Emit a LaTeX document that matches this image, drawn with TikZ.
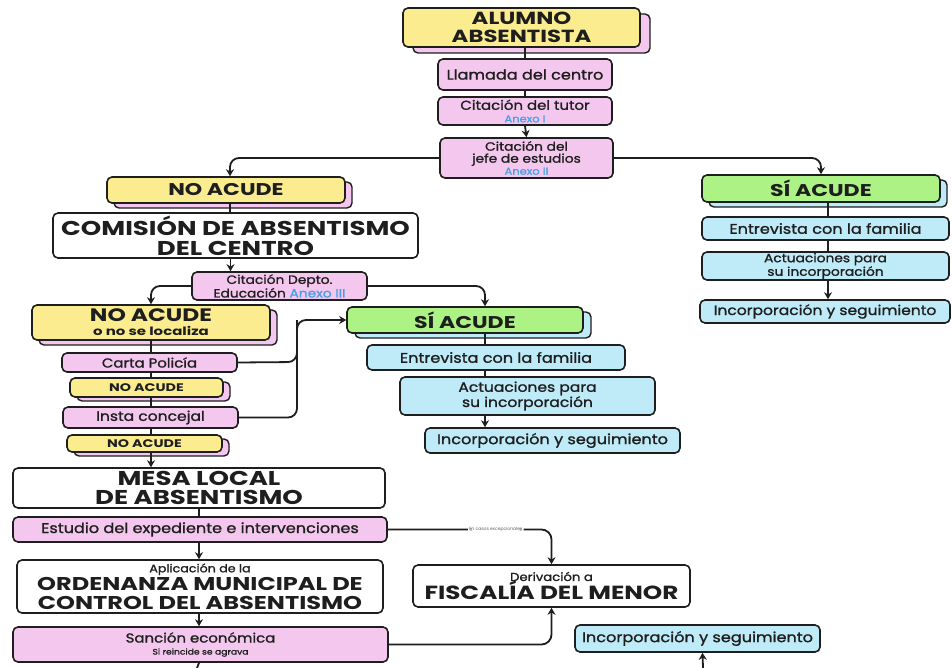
\documentclass[tikz,border=0pt]{standalone}
\usepackage{fontspec}
\setmainfont{Poppins}
\newfontfamily\titlefont{Poppins}[FakeStretch=1.3]
\newfontfamily\bodyfont{Poppins}[FakeStretch=1.15,FakeBold=1.3]
\usetikzlibrary{arrows.meta}
\definecolor{cyel}{HTML}{FAEC8F}
\definecolor{cpink}{HTML}{F4C8EE}
\definecolor{cgreen}{HTML}{ADF285}
\definecolor{cblue}{HTML}{BFEBF8}
\definecolor{ctxtblue}{HTML}{4B9FE6}
\definecolor{cline}{HTML}{1E1E1E}
\newcommand{\tfs}[2]{\titlefont\bfseries\fontsize{#1}{#2}\selectfont}
\newcommand{\bfs}[2]{\bodyfont\mdseries\fontsize{#1}{#2}\selectfont}
\begin{document}
\begin{tikzpicture}[x=1pt,y=-1pt,
  box/.style={draw=cline, line width=1.6pt, rounded corners=5pt, align=center, inner sep=0pt, text=cline},
  shbox/.style={draw=cline, line width=1.4pt, rounded corners=5pt, inner sep=0pt},
  conn/.style={draw=cline, line width=1.8pt},
  arr/.style={conn, -{Stealth[length=7pt,width=8pt]}},
  big/.style={font=\tfs{17}{17}},
  mid/.style={font=\bfs{14}{14}},
]
\useasboundingbox[fill=white] (0,0) rectangle (952,668);

% ---------- top column ----------
\node[shbox, fill=cpink, minimum width=237pt, minimum height=39pt] (alumnoS) at (531.5,33.5) {};
\node[box, fill=cyel, minimum width=237pt, minimum height=39pt, font=\tfs{17.5}{18}] (alumno) at (521.5,27.5) {ALUMNO\\ABSENTISTA};
\node[box, fill=cpink, minimum width=174pt, minimum height=31pt, mid] (llamada) at (525,74.5) {Llamada del centro};
\node[box, fill=cpink, minimum width=174pt, minimum height=28pt, font=\bfs{13}{12.5}] (tutor) at (525,111) {Citación del tutor\\{\fontsize{10}{10}\selectfont\textcolor{ctxtblue}{Anexo I}}};
\node[box, fill=cpink, minimum width=173pt, minimum height=40pt, font=\bfs{12}{12}] (jefe) at (526.5,158) {Citación del\\jefe de estudios\\{\fontsize{10}{10}\selectfont\textcolor{ctxtblue}{Anexo II}}};

% ---------- right column ----------
\node[shbox, fill=cblue, minimum width=238pt, minimum height=27pt] (siac1S) at (828,193.5) {};
\node[box, fill=cgreen, minimum width=238pt, minimum height=27pt, big] (siac1) at (821,188.5) {SÍ ACUDE};
\node[box, fill=cblue, minimum width=247pt, minimum height=23pt, mid] (ent1) at (825.5,228.5) {Entrevista con la familia};
\node[box, fill=cblue, minimum width=247pt, minimum height=28pt, font=\bfs{12}{12.5}] (act1) at (825.5,266) {Actuaciones para\\su incorporación};
\node[box, fill=cblue, minimum width=250pt, minimum height=23pt, font=\bfs{13.5}{14}] (inc1) at (825,311.5) {Incorporación y seguimiento};

% ---------- left upper ----------
\node[shbox, fill=cpink, minimum width=238pt, minimum height=26pt] (noac1S) at (233,195) {};
\node[box, fill=cyel, minimum width=238pt, minimum height=26pt, big] (noac1) at (226,190) {NO ACUDE};
\node[box, fill=white, minimum width=365pt, minimum height=45pt, font=\tfs{20}{20}] (comision) at (235.5,235.5) {COMISIÓN DE ABSENTISMO\\DEL CENTRO};
\node[box, fill=cpink, minimum width=175pt, minimum height=28pt, font=\bfs{12}{12.5}] (depto) at (279.5,286) {Citación Depto.\\Educación \textcolor{ctxtblue}{Anexo III}};

\node[shbox, fill=cpink, minimum width=238pt, minimum height=35pt] (noac2S) at (158,327.5) {};
\node[box, fill=cyel, minimum width=238pt, minimum height=35pt, font=\tfs{18}{14}] (noac2) at (151,322.5) {NO ACUDE\\{\fontsize{11.5}{11}\selectfont o no se localiza}};
\node[box, fill=cpink, minimum width=175pt, minimum height=19pt, font=\bfs{13}{13}] (carta) at (149.5,362.5) {Carta Policía};
\node[shbox, fill=cpink, minimum width=153pt, minimum height=19pt] (noacS1S) at (153.5,391.5) {};
\node[box, fill=cyel, minimum width=153pt, minimum height=19pt, font=\tfs{11}{11}] (noacS1) at (146.5,387.5) {NO ACUDE};
\node[box, fill=cpink, minimum width=175pt, minimum height=21pt, font=\bfs{13.5}{13}] (insta) at (150.5,417.5) {Insta concejal};
\node[shbox, fill=cpink, minimum width=155pt, minimum height=17pt] (noacS2S) at (151.5,447.5) {};
\node[box, fill=cyel, minimum width=155pt, minimum height=17pt, font=\tfs{11}{11}] (noacS2) at (144.5,443.5) {NO ACUDE};

% ---------- middle column ----------
\node[shbox, fill=cblue, minimum width=236pt, minimum height=26pt] (siac2S) at (473,325) {};
\node[box, fill=cgreen, minimum width=236pt, minimum height=26pt, big] (siac2) at (465,320) {SÍ ACUDE};
\node[box, fill=cblue, minimum width=258pt, minimum height=25pt, mid] (ent2) at (496,357.5) {Entrevista con la familia};
\node[box, fill=cblue, minimum width=255pt, minimum height=38pt, font=\bfs{13.5}{14}] (act2) at (527.5,396) {Actuaciones para\\su incorporación};
\node[box, fill=cblue, minimum width=255pt, minimum height=25pt, mid] (inc2) at (552.5,440.5) {Incorporación y seguimiento};

% ---------- bottom ----------
\node[box, fill=white, minimum width=372pt, minimum height=40pt, font=\tfs{20}{19}] (mesa) at (199,488) {MESA LOCAL\\DE ABSENTISMO};
\node[box, fill=cpink, minimum width=374pt, minimum height=25pt, mid] (estudio) at (200,529.5) {Estudio del expediente e intervenciones};
\node[box, fill=white, minimum width=366pt, minimum height=53pt, font=\tfs{18.5}{18.5}] (aplic) at (200,586.5) {{\bfs{11}{11}Aplicación de la}\\ORDENANZA MUNICIPAL DE\\CONTROL DEL ABSENTISMO};
\node[box, fill=cpink, minimum width=375pt, minimum height=35pt, font=\bfs{13}{12}] (sancion) at (200.5,644.5) {Sanción económica\\{\fontsize{8}{8}\selectfont Si reincide se agrava}};
\node[box, fill=white, minimum width=277pt, minimum height=42pt, font=\tfs{19}{19}] (fiscal) at (551.5,586) {{\bfs{11.5}{11}Derivación a}\\FISCALÍA DEL MENOR};
\node[box, fill=cblue, minimum width=245pt, minimum height=27pt, mid] (inc3) at (697.5,638.5) {Incorporación y seguimiento};

\coordinate (sancionEnd) at (197,668);
\coordinate (inc3Start) at (703,668);
\coordinate (join) at (297,362);

% ---------- connectors ----------
\draw[conn] (alumno.south -| llamada.north) -- (llamada.north);
\draw[conn] (llamada.south) -- (tutor.north);
\draw[arr] (tutor.south) -- (jefe.north);
\draw[arr, rounded corners=9pt] (jefe.west) -| ([xshift=4pt]noac1.north);
\draw[arr, rounded corners=9pt] (jefe.east) -| (siac1.north);

\draw[conn] ([xshift=4pt]noac1.south) -- ([xshift=4pt]noac1.south |- comision.north);
\draw[arr] ([xshift=-5pt]comision.south) -- ([xshift=-5pt]comision.south |- depto.north);
\draw[arr, rounded corners=9pt] (depto.west) -| (noac2.north);
\draw[arr, rounded corners=9pt] (depto.east) -| ([xshift=20pt]siac2.north);

\draw[conn] (noac2.south) -- (noac2.south |- carta.north);
\draw[conn] (noac2.south |- carta.south) -- (noac2.south |- noacS1.north);
\draw[conn] (noac2.south |- noacS1.south) -- (noac2.south |- insta.north);
\draw[conn] (noac2.south |- insta.south) -- (noac2.south |- noacS2.north);
\draw[arr] (noac2.south |- noacS2.south) -- (noac2.south |- mesa.north);

\draw[conn, rounded corners=9pt] (carta.east) -- (join) -- (join |- siac2.west);
\draw[arr, rounded corners=9pt] (insta.east) -| (join) |- (siac2.west);

\draw[conn] ([xshift=20pt]siac2.south) -- ([xshift=20pt]siac2.south |- ent2.north);
\draw[conn] ([xshift=20pt]siac2.south |- ent2.south) -- ([xshift=20pt]siac2.south |- act2.north);
\draw[arr] ([xshift=20pt]siac2.south |- act2.south) -- ([xshift=20pt]siac2.south |- inc2.north);

\draw[conn] ([xshift=7pt]siac1.south) -- ([xshift=7pt]siac1.south |- ent1.north);
\draw[conn] ([xshift=7pt]siac1.south |- ent1.south) -- ([xshift=7pt]siac1.south |- act1.north);
\draw[arr] ([xshift=7pt]siac1.south |- act1.south) -- ([xshift=7pt]siac1.south |- inc1.north);

\draw[conn] (mesa.south) -- (mesa.south |- estudio.north);
\draw[arr] (mesa.south |- estudio.south) -- (mesa.south |- aplic.north);
\draw[arr] (mesa.south |- aplic.south) -- (mesa.south |- sancion.north);
\draw[conn] (mesa.south |- sancion.south) -- (sancionEnd);

\draw[arr, rounded corners=10pt] (estudio.east) -| node[pos=0.33, fill=white, inner sep=1pt, font=\fontsize{4.5}{5}\selectfont, text=cline!70] {En casos excepcionales} (fiscal.north);
\draw[arr, rounded corners=10pt] (sancion.east) -| (fiscal.south);
\draw[arr] (inc3Start) -- ([xshift=5pt]inc3.south);
\end{tikzpicture}
\end{document}
